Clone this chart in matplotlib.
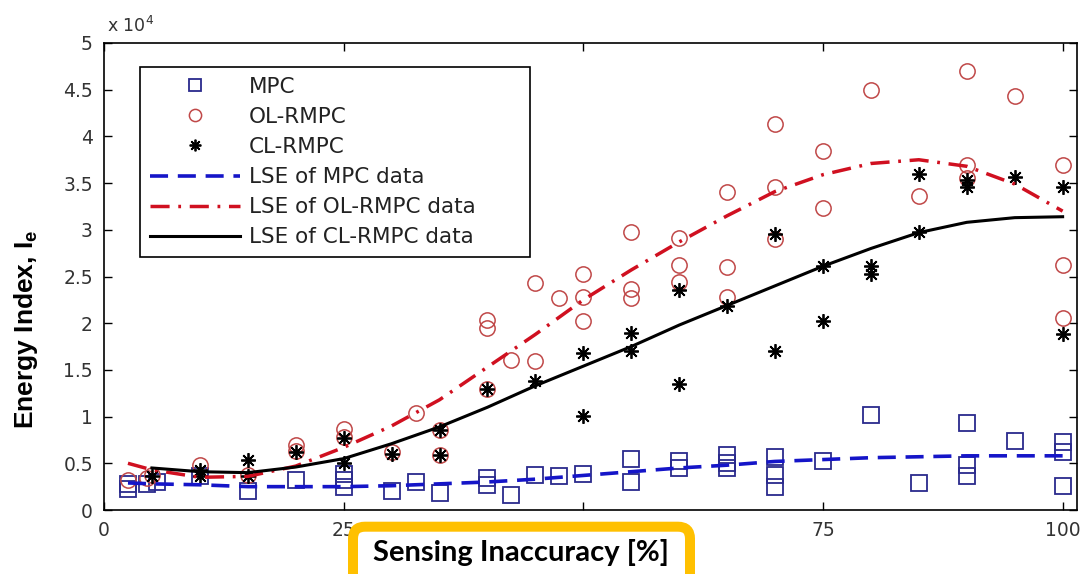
import matplotlib
matplotlib.use("Agg")
import matplotlib.pyplot as plt
import numpy as np
from matplotlib.patches import FancyBboxPatch
from matplotlib.transforms import IdentityTransform

plt.rcParams['font.family'] = ['DejaVu Sans']
plt.rcParams['mathtext.fontset'] = 'custom'
plt.rcParams['mathtext.rm'] = 'DejaVu Sans'
plt.rcParams['mathtext.bf'] = 'Liberation Sans:bold'

# values in units of 1e4
mpc_x = [2.5, 2.5, 4.5, 5.5, 10, 15, 20, 25, 25, 25, 30, 32.5, 35, 40, 40, 42.5, 45, 47.5, 50,
         55, 55, 60, 60, 65, 65, 65, 70, 70, 70, 75, 80, 85, 90, 90, 90, 95, 100, 100, 100]
mpc_y = [0.22, 0.28, 0.28, 0.30, 0.36, 0.20, 0.32, 0.39, 0.32, 0.25, 0.20, 0.30, 0.18, 0.34, 0.27, 0.16, 0.38, 0.36, 0.39,
         0.55, 0.30, 0.52, 0.45, 0.59, 0.50, 0.45, 0.57, 0.37, 0.25, 0.52, 1.02, 0.29, 0.93, 0.48, 0.36, 0.74, 0.73, 0.62, 0.26]

ol_x = [2.5, 4.5, 5, 10, 15, 20, 20, 25, 25, 30, 32.5, 35, 35, 40, 40, 40, 42.5, 45, 45, 47.5, 50, 50, 50,
        55, 55, 55, 60, 60, 60, 65, 65, 65, 70, 70, 70, 75, 75, 80, 85, 90, 90, 90, 95, 100, 100, 100]
ol_y = [0.32, 0.34, 0.37, 0.48, 0.38, 0.70, 0.63, 0.87, 0.78, 0.62, 1.04, 0.86, 0.59, 2.03, 1.95, 1.30, 1.61, 1.60, 2.43, 2.27, 2.53, 2.28, 2.02,
        2.98, 2.37, 2.27, 2.91, 2.62, 2.44, 3.40, 2.60, 2.28, 4.13, 3.46, 2.90, 3.84, 3.23, 4.50, 3.36, 4.70, 3.69, 3.55, 4.43, 3.69, 2.62, 2.06]

cl_x = [5, 10, 10, 15, 15, 20, 25, 25, 30, 35, 35, 40, 45, 50, 50, 55, 55, 60, 60, 65, 70, 70,
        75, 75, 80, 80, 85, 85, 90, 90, 95, 100, 100]
cl_y = [0.36, 0.43, 0.36, 0.53, 0.36, 0.62, 0.77, 0.50, 0.60, 0.86, 0.59, 1.30, 1.38, 1.68, 1.01, 1.89, 1.70, 2.36, 1.35, 2.18, 2.96, 1.70,
        2.61, 2.02, 2.61, 2.53, 3.60, 2.98, 3.53, 3.46, 3.56, 3.46, 1.88]

fit_x = [2.5, 5, 10, 15, 20, 25, 30, 35, 40, 45, 50, 55, 60, 65, 70, 75, 80, 85, 90, 95, 100]
fit_mpc = [0.29, 0.28, 0.27, 0.25, 0.25, 0.25, 0.26, 0.28, 0.30, 0.33, 0.37, 0.41, 0.45, 0.48, 0.52, 0.54, 0.56, 0.57, 0.58, 0.58, 0.58]
fit_ol = [0.50, 0.43, 0.35, 0.36, 0.47, 0.67, 0.90, 1.18, 1.53, 1.88, 2.25, 2.57, 2.87, 3.15, 3.41, 3.59, 3.71, 3.75, 3.68, 3.49, 3.20]
fit_cl_x = fit_x[1:]
fit_cl = [0.45, 0.41, 0.40, 0.46, 0.55, 0.71, 0.89, 1.10, 1.33, 1.54, 1.75, 1.98, 2.19, 2.40, 2.61, 2.80, 2.97, 3.08, 3.13, 3.14]

xticks = [0, 25, 50, 75, 100]
yticks = np.arange(0, 5.01, 0.5)

W, H = 1081, 574
fig = plt.figure(figsize=(W / 100, H / 100), dpi=100)
ax = fig.add_axes([104 / W, 64 / H, 973 / W, 467 / H])

ax.plot(mpc_x, mpc_y, 's', ms=11.5, mfc='none', mec='#2a2a8c', mew=1.3, label='MPC')
ax.plot(ol_x, ol_y, 'o', ms=11, mfc='none', mec='#c04848', mew=1.1, label='OL-RMPC')
ax.plot(cl_x, cl_y, ls='none', marker=(8, 2, 0), ms=10.5, mec='black', mew=1.3, color='black', label='CL-RMPC')
ax.plot(fit_x, fit_mpc, color='#1515c8', lw=2.6, dashes=(5, 2.7), label='LSE of MPC data')
ax.plot(fit_x, fit_ol, color='#d01020', lw=2.5, dashes=(5.5, 2.5, 0.8, 2.5), label='LSE of OL-RMPC data')
ax.plot(fit_cl_x, fit_cl, color='black', lw=2.2, label='LSE of CL-RMPC data')

ax.set_xlim(0, 101.5)
ax.set_ylim(0, 5)
ax.set_xticks(xticks)
ax.set_xticklabels([str(t) for t in xticks])
ax.set_yticks(yticks)
ax.set_yticklabels(['%g' % t for t in yticks])
ax.tick_params(direction='in', length=6, width=1, top=True, right=True,
               labelsize=13.5, pad=8, labelcolor='#333333')
for s in ax.spines.values():
    s.set_linewidth(1.2)

leg = ax.legend(loc='upper left', bbox_to_anchor=(0.037, 0.5482, 0.4009, 0.4004), mode='expand',
                borderaxespad=0, fontsize=15.5, handlelength=4.2, handletextpad=0.4,
                borderpad=0.45, labelspacing=0.47, numpoints=1, markerscale=0.8,
                fancybox=False, framealpha=1)
leg.get_frame().set_edgecolor('black')
leg.get_frame().set_linewidth(1.2)
for t in leg.get_texts():
    t.set_color('#222222')

fig.text(107 / W, (H - 32) / H, r'x 10$^{4}$', fontsize=12.5, color='#333333', va='baseline')

fig.text(26 / W, 1 - 329 / H, r'Energy Index, I$_{\mathbf{e}}$', rotation=90, ha='center', va='center',
         fontsize=19, fontweight='bold', family='Liberation Sans')

box = FancyBboxPatch((353, -30), 337, H - 526.7 + 30, boxstyle='round,pad=0,rounding_size=12',
                     transform=IdentityTransform(), facecolor='white', edgecolor='#FFC000',
                     linewidth=7.2, zorder=10)
fig.patches.append(box)
fig.text(521 / W, 13 / H, 'Sensing Inaccuracy [%]', ha='center', va='baseline',
         fontsize=21, fontweight='bold', family='Lato', zorder=11)

fig.savefig('out.png', dpi=100)
